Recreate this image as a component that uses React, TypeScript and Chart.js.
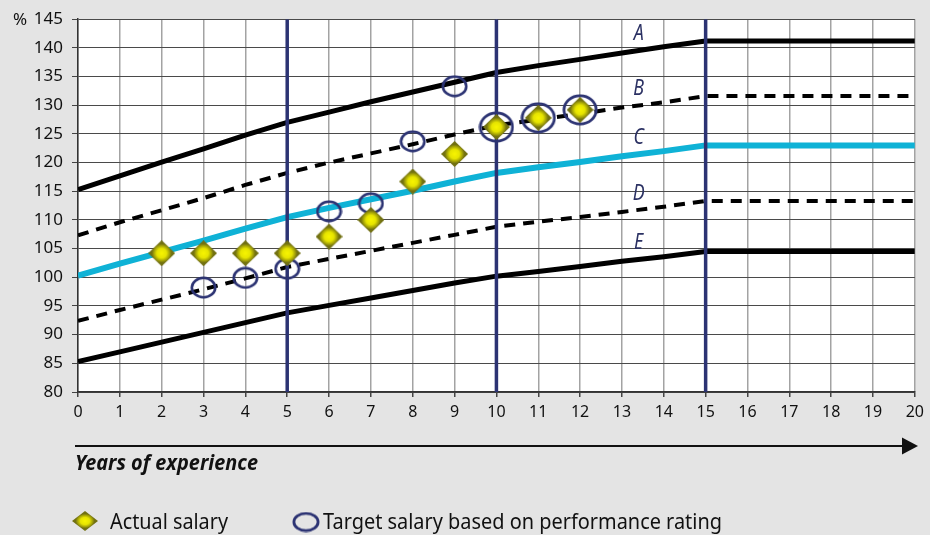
import React, { useEffect, useRef } from 'react';
import { Chart, registerables } from 'chart.js';
Chart.register(...registerables);

const years = [0, 1, 2, 3, 4, 5, 6, 7, 8, 9, 10, 11, 12, 13, 14, 15, 16, 17, 18, 19, 20];
const bandA = [115.3, 117.7, 120.1, 122.4, 124.8, 127.0, 128.8, 130.6, 132.3, 134.0, 135.7, 136.9, 138.0, 139.1, 140.2, 141.2, 141.2, 141.2, 141.2, 141.2, 141.2];
const bandB = [107.3, 109.6, 111.7, 113.8, 116.1, 118.2, 120.0, 121.6, 123.2, 124.9, 126.5, 127.5, 128.5, 129.6, 130.5, 131.6, 131.6, 131.6, 131.6, 131.6, 131.6];
const bandC = [100.3, 102.4, 104.4, 106.4, 108.5, 110.5, 112.1, 113.6, 115.1, 116.7, 118.2, 119.2, 120.1, 121.1, 122.0, 123.0, 123.0, 123.0, 123.0, 123.0, 123.0];
const bandD = [92.4, 94.3, 96.1, 97.9, 99.8, 101.8, 103.2, 104.6, 106.0, 107.4, 108.8, 109.7, 110.5, 111.4, 112.3, 113.3, 113.3, 113.3, 113.3, 113.3, 113.3];
const bandE = [85.3, 87.0, 88.7, 90.4, 92.1, 93.8, 95.1, 96.4, 97.7, 99.0, 100.2, 101.0, 101.9, 102.8, 103.6, 104.5, 104.5, 104.5, 104.5, 104.5, 104.5];
const bandNames = ['A', 'B', 'C', 'D', 'E'];
const bandLabelYear = 13.4;
const milestoneYears = [5, 10, 15];
const actualYears = [2, 3, 4, 5, 6, 7, 8, 9, 10, 11, 12];
const actualSalary = [104.2, 104.2, 104.2, 104.2, 107.1, 110.0, 116.7, 121.5, 126.2, 127.8, 129.2];
const targetYears = [3, 4, 5, 6, 7, 8, 9, 10, 11, 12];
const targetSalary = [98.2, 99.9, 101.5, 111.5, 112.9, 123.7, 133.3, 126.2, 127.8, 129.2];
const yMin = 80, yMax = 145, yStep = 5;
const xMin = 0, xMax = 20, xStep = 1;
const xAxisTitle = 'Years of experience';
const yAxisUnit = '%';
const legendLabels = ['Actual salary', 'Target salary based on performance rating'];

const NAVY = '#2c3373';
const LABEL_NAVY = '#2b3163';
const CYAN = '#0fb2d6';

function makeDiamond(w: number, h: number) {
  const c = document.createElement('canvas');
  c.width = w; c.height = h;
  const g = c.getContext('2d')!;
  const cx = w / 2, cy = h / 2;
  const r = w / 2;
  g.save();
  g.translate(cx, cy);
  g.scale(1, h / w);
  const grad = g.createRadialGradient(0, 0, 0, 0, 0, r * 0.72);
  grad.addColorStop(0, '#f8f500');
  grad.addColorStop(0.5, '#e6e400');
  grad.addColorStop(0.82, '#a09e08');
  grad.addColorStop(1, '#727112');
  g.beginPath();
  g.moveTo(0, -r); g.lineTo(r, 0); g.lineTo(0, r); g.lineTo(-r, 0); g.closePath();
  g.fillStyle = grad;
  g.fill();
  g.restore();
  return c;
}

function makeEllipse(w: number, h: number, lw: number) {
  const c = document.createElement('canvas');
  c.width = w; c.height = h;
  const g = c.getContext('2d')!;
  g.beginPath();
  g.ellipse(w / 2, h / 2, w / 2 - lw / 2 - 0.5, h / 2 - lw / 2 - 0.5, 0, 0, Math.PI * 2);
  g.strokeStyle = NAVY;
  g.lineWidth = lw;
  g.stroke();
  return c;
}

function fitText(ctx: CanvasRenderingContext2D, text: string, x: number, y: number, font: string, width: number) {
  ctx.save();
  ctx.font = font;
  const m = ctx.measureText(text).width;
  const s = width / m;
  ctx.translate(x, y);
  ctx.scale(s, 1);
  ctx.fillText(text, 0, 0);
  ctx.restore();
}

export default function App() {
  const ref = useRef<HTMLCanvasElement | null>(null);
  useEffect(() => {
    document.body.style.margin = '0';
    const canvas = ref.current!;
    const diamond = makeDiamond(27, 26);
    const legendDiamond = makeDiamond(26, 20);
    const smallRing = makeEllipse(27, 23, 2.6);
    const bigRing = makeEllipse(36, 32, 2.8);
    const legendRing = makeEllipse(28, 21, 2.8);

    const bands = [bandA, bandB, bandC, bandD, bandE];
    const bandStyles = [
      { color: '#000', width: 5, dash: [] as number[] },
      { color: '#000', width: 4, dash: [11, 8] },
      { color: CYAN, width: 6, dash: [] as number[] },
      { color: '#000', width: 4, dash: [11, 8] },
      { color: '#000', width: 5, dash: [] as number[] },
    ];

    const datasets: any[] = [];
    datasets.push({
      label: legendLabels[0],
      type: 'scatter',
      data: actualYears.map((x, i) => ({ x, y: actualSalary[i] })),
      pointStyle: diamond,
      pointRadius: 12,
      order: 0,
    });
    datasets.push({
      label: legendLabels[1],
      type: 'scatter',
      data: targetYears.map((x, i) => ({ x, y: targetSalary[i] })),
      pointStyle: (c: any) => {
        const p = c.raw;
        if (!p) return smallRing;
        const j = actualYears.indexOf(p.x);
        return j >= 0 && actualSalary[j] === p.y ? bigRing : smallRing;
      },
      pointRadius: 12,
      order: 1,
    });
    milestoneYears.forEach((m) => {
      datasets.push({
        label: 'milestone ' + m,
        type: 'line',
        data: [{ x: m, y: yMin }, { x: m, y: yMax }],
        borderColor: NAVY,
        borderWidth: 3.5,
        pointRadius: 0,
        order: 2,
      });
    });
    bands.forEach((b, i) => {
      datasets.push({
        label: bandNames[i],
        type: 'line',
        data: years.map((x, k) => ({ x, y: b[k] })),
        borderColor: bandStyles[i].color,
        borderWidth: bandStyles[i].width,
        borderDash: bandStyles[i].dash,
        borderCapStyle: 'butt',
        borderJoinStyle: 'round',
        tension: 0,
        pointRadius: 0,
        fill: false,
        order: 3 + i,
      });
    });

    const decor = {
      id: 'decor',
      beforeDraw(chart: any) {
        const { ctx, chartArea: a } = chart;
        ctx.save();
        ctx.fillStyle = '#e4e4e4';
        ctx.fillRect(0, 0, chart.width, chart.height);
        ctx.fillStyle = '#ffffff';
        ctx.fillRect(a.left, a.top, a.right - a.left, a.bottom - a.top);
        ctx.restore();
      },
      afterDraw(chart: any) {
        const { ctx, scales } = chart;
        const xs = scales.x, ys = scales.y;
        ctx.save();
        ctx.fillStyle = '#111';
        ctx.font = '17px "Noto Sans"';
        ctx.textAlign = 'center';
        ctx.textBaseline = 'middle';
        ctx.fillText(yAxisUnit, 20, ys.getPixelForValue(yMax) + 1);
        ctx.fillStyle = LABEL_NAVY;
        ctx.font = 'italic 21px "Noto Sans"';
        bands.forEach((b, i) => {
          const k = Math.floor(bandLabelYear);
          const t = bandLabelYear - k;
          const v = b[k] + (b[k + 1] - b[k]) * t;
          const px = xs.getPixelForValue(bandLabelYear);
          const py = ys.getPixelForValue(v) - 16;
          ctx.save();
          ctx.translate(px, py);
          ctx.scale(0.85, 1);
          ctx.fillText(bandNames[i], 0, 0);
          ctx.restore();
        });
        const ay = 446;
        ctx.strokeStyle = '#111';
        ctx.lineWidth = 2;
        ctx.beginPath();
        ctx.moveTo(75, ay);
        ctx.lineTo(905, ay);
        ctx.stroke();
        ctx.fillStyle = '#111';
        ctx.beginPath();
        ctx.moveTo(902, ay - 8.5);
        ctx.lineTo(918, ay);
        ctx.lineTo(902, ay + 8.5);
        ctx.closePath();
        ctx.fill();
        ctx.textAlign = 'left';
        ctx.textBaseline = 'alphabetic';
        fitText(ctx, xAxisTitle, 75, 470, 'italic bold 21px "Noto Sans"', 183);
        ctx.drawImage(legendDiamond, 85 - legendDiamond.width / 2, 521 - legendDiamond.height / 2);
        ctx.drawImage(legendRing, 306 - legendRing.width / 2, 522 - legendRing.height / 2);
        ctx.fillStyle = '#111';
        fitText(ctx, legendLabels[0], 110, 529, '22px "Noto Sans"', 118);
        fitText(ctx, legendLabels[1], 323, 529, '22px "Noto Sans"', 399);
        ctx.restore();
      },
    };

    const chart = new Chart(canvas, {
      type: 'scatter',
      data: { datasets },
      options: {
        animation: false,
        responsive: false,
        devicePixelRatio: 1,
        layout: { padding: { left: 0, right: 13, top: 18, bottom: 0 } },
        plugins: { legend: { display: false }, tooltip: { enabled: false } },
        scales: {
          x: {
            type: 'linear',
            min: xMin,
            max: xMax,
            ticks: { stepSize: xStep, color: '#111', font: { family: 'Noto Sans', size: 16 }, padding: 6, maxRotation: 0, autoSkip: false },
            grid: { color: '#a3a3a3', lineWidth: 1.5, tickLength: 5, tickColor: '#444' },
            border: { color: '#333', width: 1.5 },
            afterFit: (s: any) => { s.height = 143; },
          },
          y: {
            type: 'linear',
            min: yMin,
            max: yMax,
            ticks: { stepSize: yStep, color: '#111', font: { family: 'Noto Sans', size: 17 }, padding: 9 },
            grid: { color: '#4a4a4a', lineWidth: 1, tickLength: 6, tickColor: '#444' },
            border: { color: '#333', width: 1.5 },
            afterFit: (s: any) => { s.width = 78; },
          },
        },
      } as any,
      plugins: [decor],
    });
    return () => chart.destroy();
  }, []);
  return (
    <div style={{ position: 'absolute', left: 0, top: 0, width: 930, height: 535 }}>
      <canvas ref={ref} width={930} height={535} style={{ display: 'block' }} />
    </div>
  );
}
